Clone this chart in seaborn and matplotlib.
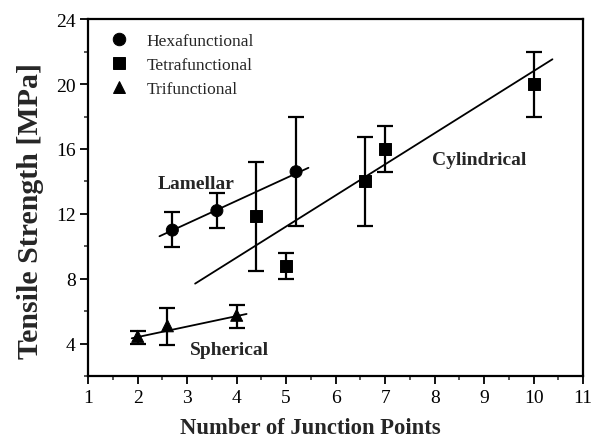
"""
    Tensile strength vs number of junction points
"""
import numpy as np
import pandas as pd
import seaborn as sns
import matplotlib
matplotlib.use('Agg')
import matplotlib.pyplot as plt
from matplotlib.ticker import MultipleLocator

# data
hexa_x = [2.7, 3.6, 5.2]
hexa_y = [11.0, 12.2, 14.6]
hexa_lo = [9.95, 11.1, 11.25]
hexa_hi = [12.1, 13.3, 18.0]

tetra_x = [4.4, 5.0, 6.6, 7.0, 10.0]
tetra_y = [11.85, 8.8, 14.0, 16.0, 20.0]
tetra_lo = [8.5, 8.0, 11.25, 14.6, 18.0]
tetra_hi = [15.2, 9.6, 16.75, 17.4, 22.0]

tri_x = [2.0, 2.6, 4.0]
tri_y = [4.45, 5.1, 5.75]
tri_lo = [3.95, 3.9, 4.95]
tri_hi = [4.8, 6.2, 6.4]

# fitted lines (end points)
lamellar_fit_x = [2.44, 5.45]
lamellar_fit_y = [10.62, 14.84]
cylindrical_fit_x = [3.16, 10.38]
cylindrical_fit_y = [7.70, 21.53]
spherical_fit_x = [1.88, 4.2]
spherical_fit_y = [4.33, 5.83]

groups = ['Hexafunctional', 'Tetrafunctional', 'Trifunctional']

frames = []
for name, xs, ys, lo, hi in [
        (groups[0], hexa_x, hexa_y, hexa_lo, hexa_hi),
        (groups[1], tetra_x, tetra_y, tetra_lo, tetra_hi),
        (groups[2], tri_x, tri_y, tri_lo, tri_hi)]:
    frames.append(pd.DataFrame({'Junction': xs, 'Strength': ys,
                                'Low': lo, 'High': hi, 'Crosslinker': name}))
df = pd.concat(frames, ignore_index=True)

sns.set_style('ticks')
plt.rcParams['font.family'] = ['Liberation Serif', 'DejaVu Serif']

fig = plt.figure(figsize=(5.92, 4.39), dpi=100)
ax = fig.add_axes([0.149, 0.141, 0.836, 0.813])

# error bars
ax.errorbar(df['Junction'], df['Strength'],
            yerr=[df['Strength'] - df['Low'], df['High'] - df['Strength']],
            fmt='none', ecolor='black', elinewidth=1.6, capsize=5.8,
            capthick=1.6, zorder=2)

# fit lines
for fx, fy in [(lamellar_fit_x, lamellar_fit_y),
               (cylindrical_fit_x, cylindrical_fit_y),
               (spherical_fit_x, spherical_fit_y)]:
    sns.lineplot(x=fx, y=fy, color='black', lw=1.3, ax=ax, zorder=3)

sns.scatterplot(data=df, x='Junction', y='Strength', style='Crosslinker',
                style_order=groups,
                markers={'Hexafunctional': 'o', 'Tetrafunctional': 's',
                         'Trifunctional': '^'},
                color='black', edgecolor='black', s=75, ax=ax, zorder=4)

leg = ax.legend(loc='upper left', frameon=False, fontsize=12.5,
                handletextpad=0.55, labelspacing=0.45,
                borderaxespad=0.4, bbox_to_anchor=(0.0, 1.0))
for h in leg.legend_handles:
    try:
        h.set_markersize(9)
    except AttributeError:
        h.set_sizes([75])

ax.text(2.41, 13.6, 'Lamellar', fontsize=14, fontweight='bold')
ax.text(7.95, 15.05, 'Cylindrical', fontsize=14, fontweight='bold')
ax.text(3.05, 3.38, 'Spherical', fontsize=14, fontweight='bold')

ax.set_xlim(1, 11)
ax.set_ylim(2, 24)
ax.xaxis.set_major_locator(MultipleLocator(1))
ax.xaxis.set_minor_locator(MultipleLocator(0.5))
ax.set_yticks([4, 8, 12, 16, 20, 24])
ax.yaxis.set_minor_locator(MultipleLocator(2))
ax.tick_params(which='major', direction='out', length=6, width=1.3,
               labelsize=14, colors='black', pad=3)
ax.tick_params(which='minor', direction='out', length=3, width=1.1)

for sp in ax.spines.values():
    sp.set_visible(True)
    sp.set_linewidth(1.6)
    sp.set_color('black')

ax.set_xlabel('Number of Junction Points', fontsize=16.3, fontweight='bold',
              labelpad=10)
ax.xaxis.set_label_coords(0.449, -0.115)
ax.set_ylabel('Tensile Strength [MPa]', fontsize=21.5, fontweight='bold',
              labelpad=8)
ax.yaxis.set_label_coords(-0.09, 0.466)

fig.savefig('out.png', dpi=100)
